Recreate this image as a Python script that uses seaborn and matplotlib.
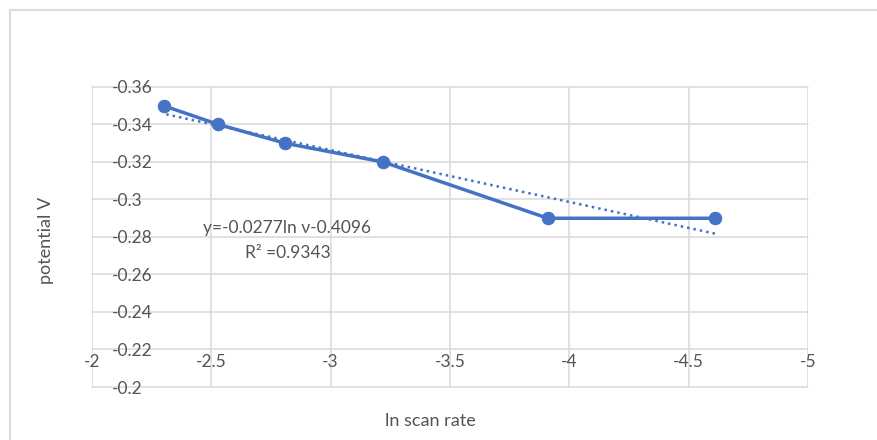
import numpy as np
import pandas as pd
import matplotlib
matplotlib.use("Agg")
import matplotlib.pyplot as plt
import seaborn as sns
from matplotlib.patches import Rectangle

# ---- data ----
ln_scan_rate = [-2.30, -2.53, -2.81, -3.22, -3.91, -4.61]
potential = [-0.35, -0.34, -0.33, -0.32, -0.29, -0.29]
x_ticks = [-2, -2.5, -3, -3.5, -4, -4.5, -5]
x_tick_labels = ["-2", "-2.5", "-3", "-3.5", "-4", "-4.5", "-5"]
y_ticks = [-0.36, -0.34, -0.32, -0.3, -0.28, -0.26, -0.24, -0.22, -0.2]
y_tick_labels = ["-0.36", "-0.34", "-0.32", "-0.3", "-0.28", "-0.26", "-0.24", "-0.22", "-0.2"]
equation_text = "y=-0.0277ln ν-0.4096"
r2_text = "R² =0.9343"
x_label = "ln scan rate"
y_label = "potential V"

df = pd.DataFrame({"x": ln_scan_rate, "y": potential})
slope, intercept = np.polyfit(df["x"], df["y"], 1)
trend = pd.DataFrame({"x": [min(ln_scan_rate), max(ln_scan_rate)]})
trend["y"] = slope * trend["x"] + intercept

sns.set_theme(style="white")
plt.rcParams["font.family"] = ["Lato", "DejaVu Sans"]

TXT = "#545454"
GRID = "#d9d9d9"
BLUE = "#4472C4"

fig = plt.figure(figsize=(8.78, 4.40), dpi=100)
fig.patch.set_facecolor("white")
# chart frame
fig.add_artist(Rectangle((10 / 878, -0.05), 1.2, 1 - 10 / 440 + 0.05,
                         transform=fig.transFigure, fill=False,
                         edgecolor="#dcdcdc", linewidth=1.6))

ax = fig.add_axes([92 / 878, 1 - 387 / 440, (808 - 92) / 878, (387 - 87) / 440])

sns.lineplot(data=trend, x="x", y="y", ax=ax, color=BLUE, linewidth=1.8,
             linestyle=(0, (1, 1.6)), zorder=3)
sns.lineplot(data=df, x="x", y="y", ax=ax, color=BLUE, linewidth=2.5,
             marker="o", markersize=9, markeredgecolor=BLUE, zorder=4,
             sort=False)

ax.set_xlim(-2, -5)
ax.set_ylim(-0.2, -0.36)
ax.set_xticks(x_ticks)
ax.set_xticklabels(x_tick_labels)
ax.set_yticks(y_ticks)
ax.set_yticklabels(y_tick_labels)
ax.grid(True, color=GRID, linewidth=1.1)
for g in ax.get_xgridlines() + ax.get_ygridlines():
    g.set_clip_on(False)
for s in ax.spines.values():
    s.set_visible(False)
ax.spines["bottom"].set_position(("data", -0.22))

ax.tick_params(axis="both", length=0, labelcolor=TXT, labelsize=12.5)
ax.tick_params(axis="y", pad=-14.5)
for lab in ax.get_yticklabels():
    lab.set_horizontalalignment("left")
ax.tick_params(axis="x", pad=3)
ax.set_xlabel("")
ax.set_ylabel("")

ax.text(-2.816, -0.2848, equation_text, color=TXT, fontsize=12.5,
        ha="center", va="center")
ax.text(-2.82, -0.2715, r2_text, color=TXT, fontsize=12.5,
        ha="center", va="center")

fig.text(430 / 878, 1 - 421 / 440, x_label, color=TXT, fontsize=13,
         ha="center", va="center")
fig.text(46 / 878, 1 - 240 / 440, y_label, color=TXT, fontsize=13,
         ha="center", va="center", rotation=90)

fig.savefig("out.png", dpi=100, facecolor="white")
